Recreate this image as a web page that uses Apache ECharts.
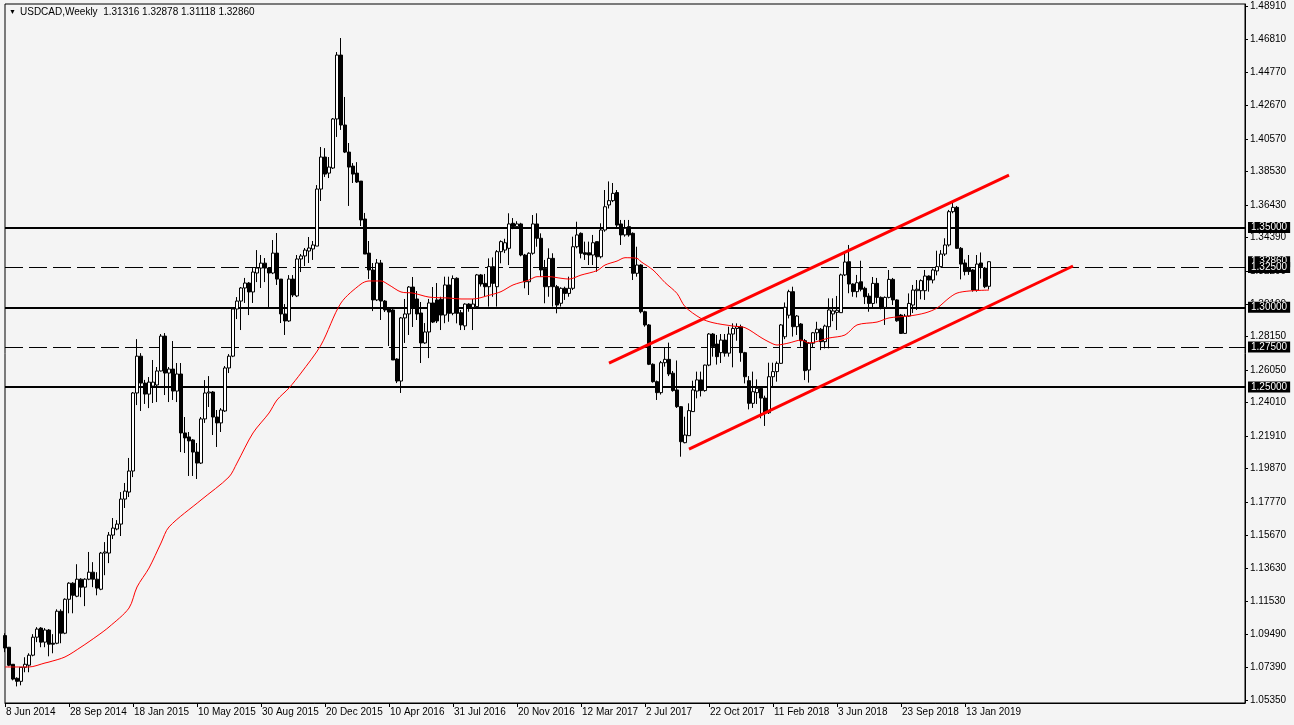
<!DOCTYPE html>
<html><head><meta charset="utf-8">
<script src="https://cdn.jsdelivr.net/npm/echarts@6/dist/echarts.min.js"></script>
<style>html,body{margin:0;padding:0;background:#f4f4f4;overflow:hidden}#c{width:1294px;height:725px;}</style>
</head><body><div id="c"></div>
<script>
// ---- data (weekly USDCAD, first bar = 8 Jun 2014) ----
const startDate = [2014, 5, 8];
const totalSlots = 311;
const opens = [
1.0939,1.0866,1.0759,1.0671,1.0652,1.0740,1.0753,1.0816,1.0929,1.0986,
1.0898,1.0974,1.0891,1.0891,1.1092,1.0954,1.1167,1.1268,1.1186,1.1293,
1.1243,1.1293,1.1337,1.1293,1.1230,1.1457,1.1457,1.1570,1.1608,1.1639,
1.1796,1.1840,1.1972,1.2462,1.2693,1.2524,1.2455,1.2505,1.2512,1.2600,
1.2819,1.2587,1.2612,1.2474,1.2581,1.2211,1.2186,1.2167,1.2091,1.2022,
1.2299,1.2462,1.2468,1.2311,1.2274,1.2349,1.2619,1.2693,1.2989,1.3039,
1.3121,1.3152,1.3096,1.3215,1.3246,1.3277,1.3246,1.3215,1.3340,1.3177,
1.2958,1.2914,1.3177,1.3071,1.3303,1.3322,1.3353,1.3366,1.3384,1.3742,
1.3943,1.3842,1.3874,1.4182,1.4583,1.4144,1.3974,1.3886,1.3842,1.3792,
1.3554,1.3340,1.3234,1.3046,1.3278,1.3039,1.2989,1.2983,1.2675,1.2537,
1.2933,1.2958,1.3127,1.3052,1.2964,1.2776,1.2845,1.3027,1.3046,1.3050,
1.2951,1.3140,1.2962,1.3182,1.2966,1.2883,1.3020,1.2999,1.3004,1.3203,
1.3150,1.3129,1.3255,1.3129,1.3349,1.3359,1.3370,1.3527,1.3506,1.3523,
1.3328,1.3160,1.3339,1.3523,1.3433,1.3244,1.3129,1.3307,1.3129,1.3025,
1.3119,1.3087,1.3119,1.3380,1.3464,1.3342,1.3342,1.3328,1.3412,1.3317,
1.3485,1.3642,1.3669,1.3720,1.3523,1.3454,1.3506,1.3464,1.3213,1.3265,
1.2972,1.2889,1.2642,1.2533,1.2464,1.2652,1.2673,1.2586,1.2481,1.2376,
1.2150,1.2194,1.2345,1.2474,1.2544,1.2477,1.2637,1.2832,1.2769,1.2715,
1.2794,1.2712,1.2832,1.2867,1.2878,1.2715,1.2539,1.2397,1.2464,1.2491,
1.2430,1.2338,1.2564,1.2596,1.2648,1.2815,1.2950,1.3098,1.2878,1.2895,
1.2790,1.2606,1.2774,1.2840,1.2862,1.2784,1.2878,1.2958,1.2968,1.2966,
1.3203,1.3286,1.3146,1.3098,1.3160,1.3119,1.3070,1.3024,1.3150,1.3062,
1.2999,1.3062,1.3175,1.3046,1.2951,1.2836,1.2945,1.3014,1.3104,1.3104,
1.3104,1.3196,1.3171,1.3228,1.3255,1.3334,1.3391,1.3600,1.3627,1.3370,
1.3278,1.3250,1.3234,1.3108,1.3278,1.3246,1.31316];
const closes = [
1.0861,1.0753,1.0666,1.0652,1.0740,1.0759,1.0816,1.0929,1.0980,1.0898,
1.0974,1.0885,1.0885,1.1092,1.0954,1.1167,1.1268,1.1192,1.1293,1.1243,
1.1293,1.1337,1.1293,1.1237,1.1457,1.1464,1.1570,1.1614,1.1639,1.1796,
1.1846,1.1972,1.2462,1.2693,1.2524,1.2455,1.2530,1.2530,1.2600,1.2819,
1.2587,1.2612,1.2474,1.2581,1.2211,1.2180,1.2161,1.2091,1.2022,1.2299,
1.2462,1.2468,1.2311,1.2274,1.2355,1.2619,1.2693,1.2989,1.3039,1.3121,
1.3152,1.3096,1.3221,1.3246,1.3277,1.3246,1.3215,1.3340,1.3177,1.2958,
1.2914,1.3177,1.3077,1.3303,1.3322,1.3359,1.3372,1.3391,1.3742,1.3943,
1.3836,1.3880,1.4182,1.4583,1.4144,1.3974,1.3880,1.3836,1.3786,1.3548,
1.3334,1.3234,1.3046,1.3278,1.3039,1.2983,1.2970,1.2669,1.2537,1.2933,
1.2958,1.3127,1.3002,1.2958,1.2776,1.2845,1.3027,1.2907,1.2914,1.2951,
1.3140,1.2962,1.3180,1.2962,1.2889,1.3020,1.2999,1.3020,1.3203,1.3146,
1.3129,1.3255,1.3150,1.3349,1.3412,1.3405,1.3523,1.3506,1.3523,1.3328,
1.3160,1.3339,1.3523,1.3433,1.3234,1.3129,1.3307,1.3129,1.3014,1.3119,
1.3087,1.3119,1.3380,1.3454,1.3339,1.3332,1.3328,1.3405,1.3317,1.3485,
1.3631,1.3669,1.3715,1.3516,1.3454,1.3496,1.3454,1.3213,1.3265,1.2972,
1.2889,1.2642,1.2533,1.2464,1.2652,1.2673,1.2581,1.2477,1.2376,1.2156,
1.2198,1.2351,1.2481,1.2544,1.2477,1.2637,1.2832,1.2753,1.2690,1.2794,
1.2712,1.2832,1.2867,1.2878,1.2715,1.2564,1.2397,1.2470,1.2491,1.2430,
1.2338,1.2564,1.2596,1.2648,1.2889,1.3000,1.3098,1.2878,1.2945,1.2790,
1.2602,1.2774,1.2840,1.2862,1.2784,1.2882,1.2983,1.2977,1.2981,1.3203,
1.3284,1.3146,1.3098,1.3154,1.3113,1.3066,1.3024,1.3150,1.3062,1.2999,
1.3062,1.3175,1.3046,1.2915,1.2836,1.2945,1.3024,1.3108,1.3113,1.3167,
1.3196,1.3171,1.3234,1.3255,1.3334,1.3391,1.3600,1.3627,1.3370,1.3271,
1.3224,1.3224,1.3108,1.3271,1.3255,1.3129,1.32860];
const lows = [
1.0835,1.0747,1.0658,1.0620,1.0627,1.0709,1.0709,1.0809,1.0898,1.0866,
1.0866,1.0809,1.0828,1.0885,1.0891,1.0948,1.1079,1.1079,1.1180,1.1180,
1.1124,1.1287,1.1243,1.1192,1.1224,1.1318,1.1394,1.1545,1.1600,1.1564,
1.1740,1.1809,1.1934,1.2386,1.2349,1.2393,1.2367,1.2399,1.2405,1.2597,
1.2449,1.2405,1.2418,1.2405,1.2091,1.2085,1.1941,1.1941,1.1922,1.2016,
1.2274,1.2374,1.2198,1.2123,1.2217,1.2343,1.2587,1.2687,1.2926,1.2857,
1.3027,1.2951,1.3027,1.3158,1.3121,1.3158,1.3002,1.3208,1.3140,1.2901,
1.2826,1.2908,1.3064,1.3064,1.3221,1.3259,1.3278,1.3297,1.3384,1.3667,
1.3818,1.3811,1.3868,1.4069,1.4113,1.3968,1.3636,1.3780,1.3780,1.3510,
1.3334,1.3177,1.2976,1.3039,1.2920,1.2970,1.2757,1.2669,1.2524,1.2462,
1.2776,1.2826,1.2876,1.2920,1.2650,1.2770,1.2681,1.2901,1.2901,1.2857,
1.2900,1.2909,1.2950,1.2899,1.2857,1.2857,1.2972,1.2857,1.3004,1.3130,
1.3066,1.3004,1.3066,1.3004,1.3276,1.3340,1.3265,1.3490,1.3495,1.3320,
1.3119,1.3077,1.3330,1.3380,1.3192,1.3025,1.3066,1.3004,1.2962,1.3004,
1.3046,1.3066,1.3108,1.3370,1.3307,1.3297,1.3265,1.3265,1.3223,1.3307,
1.3474,1.3620,1.3660,1.3496,1.3391,1.3443,1.3443,1.3171,1.3192,1.2962,
1.2878,1.2637,1.2527,1.2418,1.2452,1.2627,1.2568,1.2470,1.2368,1.2062,
1.2146,1.2192,1.2343,1.2428,1.2440,1.2470,1.2630,1.2690,1.2640,1.2650,
1.2690,1.2690,1.2623,1.2790,1.2658,1.2522,1.2359,1.2368,1.2393,1.2303,
1.2255,1.2330,1.2502,1.2533,1.2645,1.2800,1.2930,1.2816,1.2826,1.2752,
1.2543,1.2527,1.2748,1.2794,1.2731,1.2742,1.2742,1.2913,1.2857,1.2964,
1.3196,1.3088,1.3066,1.3062,1.3100,1.3020,1.2972,1.2993,1.3024,1.2987,
1.2889,1.3056,1.3014,1.2909,1.2832,1.2832,1.2939,1.2964,1.2983,1.3050,
1.3046,1.3098,1.3150,1.3200,1.3250,1.3322,1.3381,1.3590,1.3366,1.3175,
1.3200,1.3203,1.3098,1.3098,1.3180,1.3120,1.31118];
const highs = [
1.0954,1.0866,1.0759,1.0677,1.0740,1.0803,1.0828,1.0948,1.0992,1.0992,
1.0986,1.0980,1.0948,1.1104,1.1104,1.1173,1.1274,1.1274,1.1387,1.1299,
1.1299,1.1464,1.1400,1.1337,1.1464,1.1526,1.1589,1.1677,1.1664,1.1840,
1.1897,1.2054,1.2468,1.2800,1.2712,1.2544,1.2562,1.2669,1.2625,1.2832,
1.2838,1.2625,1.2788,1.2650,1.2650,1.2311,1.2217,1.2173,1.2148,1.2311,
1.2543,1.2568,1.2474,1.2355,1.2367,1.2631,1.2706,1.2995,1.3064,1.3127,
1.3184,1.3158,1.3246,1.3359,1.3328,1.3309,1.3252,1.3422,1.3466,1.3177,
1.3020,1.3202,1.3202,1.3328,1.3334,1.3372,1.3441,1.3416,1.3767,1.4006,
1.3999,1.3943,1.4188,1.4602,1.4690,1.4320,1.4031,1.3905,1.3911,1.3792,
1.3592,1.3416,1.3278,1.3303,1.3297,1.3045,1.3002,1.2990,1.2680,1.2939,
1.3052,1.3133,1.3190,1.3102,1.3033,1.2901,1.3052,1.3127,1.3152,1.3066,
1.3192,1.3192,1.3200,1.3188,1.2983,1.3025,1.3025,1.3052,1.3209,1.3209,
1.3209,1.3307,1.3313,1.3359,1.3420,1.3430,1.3590,1.3560,1.3540,1.3530,
1.3335,1.3345,1.3579,1.3590,1.3464,1.3297,1.3370,1.3339,1.3140,1.3125,
1.3129,1.3192,1.3443,1.3537,1.3470,1.3412,1.3412,1.3454,1.3412,1.3527,
1.3736,1.3790,1.3780,1.3736,1.3548,1.3548,1.3548,1.3470,1.3380,1.3270,
1.2978,1.2895,1.2648,1.2540,1.2663,1.2749,1.2778,1.2600,1.2666,1.2380,
1.2313,1.2397,1.2539,1.2596,1.2596,1.2640,1.2838,1.2838,1.2826,1.2832,
1.2832,1.2878,1.2899,1.2899,1.2891,1.2720,1.2568,1.2596,1.2547,1.2500,
1.2445,1.2652,1.2652,1.2660,1.2895,1.3030,1.3110,1.3129,1.2951,1.2901,
1.2801,1.2782,1.2845,1.2909,1.2870,1.2891,1.3056,1.3056,1.3071,1.3211,
1.3344,1.3391,1.3150,1.3203,1.3292,1.3129,1.3088,1.3190,1.3184,1.3068,
1.3068,1.3234,1.3184,1.3050,1.2958,1.2958,1.3087,1.3140,1.3171,1.3175,
1.3234,1.3200,1.3244,1.3355,1.3359,1.3433,1.3611,1.3663,1.3636,1.3378,
1.3300,1.3328,1.3240,1.3328,1.3344,1.3253,1.32878];
const maBars = [0,6,10,11,15,19,23,26,31,33,36,39,41,49,56,58,62,66,68,71,74,79,84,89,91,94,96,99,102,106,111,114,117,121,124,127,131,133,136,139,141,144,148,150,153,155,158,159,162,165,168,170,174,177,182,185,189,191,193,196,199,201,206,210,213,218,221,226,230,233,236,238,241,246];
const maValues = [1.0742,1.0742,1.0767,1.0773,1.0805,1.0867,1.0936,1.0993,1.1112,1.1244,1.1363,1.1520,1.1621,1.1790,1.1935,1.2022,1.2211,1.2336,1.2418,1.2493,1.2587,1.2763,1.3027,1.3146,1.3165,1.3165,1.3140,1.3096,1.3089,1.3064,1.3058,1.3052,1.3052,1.3075,1.3098,1.3140,1.3171,1.3192,1.3192,1.3182,1.3177,1.3202,1.3230,1.3265,1.3290,1.3311,1.3307,1.3286,1.3234,1.3155,1.3087,1.3004,1.2930,1.2903,1.2882,1.2872,1.2810,1.2782,1.2763,1.2776,1.2794,1.2776,1.2807,1.2826,1.2889,1.2907,1.2933,1.2945,1.2964,1.2995,1.3058,1.3089,1.3102,1.3108];
// channel trend lines [bar, price]
const upperTrend = [[151, 1.2650], [251, 1.3830]];
const lowerTrend = [[171, 1.2110], [267, 1.3259]];
// horizontal levels
const solidLevels = [1.35, 1.30, 1.25];
const dashedLevels = [1.325, 1.275];
const currentPrice = 1.32860;
// right axis tick labels
const yTicks = [1.48910,1.46810,1.44770,1.42670,1.40570,1.38530,1.36430,1.34390,1.32290,1.30190,1.28150,1.26050,1.24010,1.21910,1.19870,1.17770,1.15670,1.13630,1.11530,1.09490,1.07390,1.05350];
const yMin = 1.05159, yMax = 1.49036;
const titleText = 'USDCAD,Weekly  1.31316 1.32878 1.31118 1.32860';

// ---- build ----
const MON = ['Jan','Feb','Mar','Apr','May','Jun','Jul','Aug','Sep','Oct','Nov','Dec'];
const t0 = Date.UTC(startDate[0], startDate[1], startDate[2]);
const categories = [];
for (let k = 0; k < totalSlots; k++) {
  const d = new Date(t0 + k * 7 * 86400000);
  categories.push(d.getUTCDate() + ' ' + MON[d.getUTCMonth()] + ' ' + d.getUTCFullYear());
}
const candles = opens.map((o, i) => [o, closes[i], lows[i], highs[i]]);
const maData = maBars.map((b, i) => [b, maValues[i]]);
const nBars = opens.length;
const showDate = (i) => i % 16 === 0 && i < nBars;
const FONT = 'Liberation Sans, Arial, sans-serif';

function lvlLabel(v) {
  const s = v.toFixed(5);
  return {show: true, position: 'end', distance: 3, formatter: () => s,
    backgroundColor: '#000', color: '#fff', padding: [1, 3, 0, 3], fontSize: 10, fontFamily: FONT};
}
const markData = [];
markData.push({yAxis: currentPrice, lineStyle: {color: 'rgba(0,0,0,0)', width: 0}, label: lvlLabel(currentPrice)});
dashedLevels.forEach(v => markData.push({yAxis: v, lineStyle: {color: '#000', width: 1, type: [18, 6]}, label: lvlLabel(v)}));
solidLevels.forEach(v => markData.push({yAxis: v, lineStyle: {color: '#000', width: 2, type: 'solid'}, label: lvlLabel(v)}));

const chart = echarts.init(document.getElementById('c'), null, {renderer: 'canvas'});
chart.setOption({
  animation: false,
  backgroundColor: '#f4f4f4',
  textStyle: {fontFamily: FONT},
  grid: {left: 5, right: 49, top: 4, bottom: 22, show: true, borderColor: '#000', borderWidth: 1, backgroundColor: '#f4f4f4'},
  xAxis: {
    type: 'category', data: categories, boundaryGap: false,
    axisLine: {lineStyle: {color: '#000', width: 1}},
    axisTick: {show: true, interval: showDate, length: 4, lineStyle: {color: '#000'}},
    axisLabel: {interval: showDate, color: '#000', fontSize: 10, fontFamily: FONT, align: 'left', margin: 4, padding: [0, 0, 0, 1]},
    splitLine: {show: false}
  },
  yAxis: {
    type: 'value', position: 'right', min: yMin, max: yMax, scale: true,
    axisLine: {show: true, lineStyle: {color: '#000'}},
    axisTick: {show: true, length: 3, customValues: yTicks, lineStyle: {color: '#000'}},
    axisLabel: {customValues: yTicks, formatter: (v) => v.toFixed(5), color: '#000', fontSize: 10, fontFamily: FONT, margin: 5},
    splitLine: {show: false}
  },
  graphic: [
    {type: 'text', left: 9, top: 9, style: {text: '▼', fontSize: 7, fill: '#000'}},
    {type: 'text', left: 20, top: 7, style: {text: titleText, font: '10px ' + FONT, fill: '#000'}}
  ],
  series: [
    {
      type: 'candlestick', data: candles, barWidth: 3, z: 3,
      itemStyle: {color: '#ffffff', color0: '#000000', borderColor: '#000', borderColor0: '#000', borderColorDoji: '#000', borderWidth: 1},
      markLine: {silent: true, symbol: ['none', 'none'], precision: 5, animation: false, data: markData, z: 2}
    },
    {type: 'line', data: maData, symbol: 'none', smooth: 0.3, z: 4,
      lineStyle: {color: '#ff0000', width: 1}},
    {type: 'line', data: upperTrend, symbol: 'none', z: 5, lineStyle: {color: '#ff0000', width: 3}},
    {type: 'line', data: lowerTrend, symbol: 'none', z: 5, lineStyle: {color: '#ff0000', width: 3}}
  ]
});
</script></body></html>
